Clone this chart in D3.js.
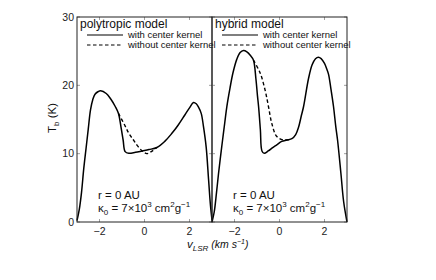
<!DOCTYPE html>
<html>
<head>
<meta charset="utf-8">
<script src="https://cdn.jsdelivr.net/npm/d3@7"></script>
<style>
  body { margin: 0; background: #fff; }
  text { font-family: Arial, "Liberation Sans", sans-serif; }
</style>
</head>
<body>
<script>
const WIDTH = 436;
const HEIGHT = 280;

const xTicks = [-2, 0, 2];
const yTicks = [0, 10, 20, 30];

const panelTitles = ['polytropic model', 'hybrid model'];
const legendLabels = ['with center kernel', 'without center kernel'];

// polytropic model, [v, Tb]
const polyWith = [
  [-3.0, 0.2], [-2.9, 1.8], [-2.8, 4.3], [-2.7, 7.8], [-2.6, 10.7], [-2.5, 13.6],
  [-2.4, 16.4], [-2.3, 17.9], [-2.2, 18.7], [-2.05, 19.1], [-1.95, 19.2],
  [-1.7, 18.8], [-1.5, 18.0], [-1.3, 16.9], [-1.16, 15.9], [-1.05, 14.0],
  [-0.95, 12.0], [-0.86, 10.3], [-0.7, 10.05], [-0.4, 10.2], [-0.1, 10.4],
  [0.2, 10.6], [0.55, 10.9], [0.9, 11.8], [1.2, 12.9], [1.5, 14.2],
  [1.8, 15.7], [2.0, 16.7], [2.18, 17.5], [2.3, 17.3], [2.4, 16.8],
  [2.52, 15.9], [2.62, 14.0], [2.74, 11.0], [2.85, 6.1], [2.93, 2.5], [3.0, 0.3]
];
const polyWithout = [
  [-1.16, 15.9], [-0.9, 14.3], [-0.7, 13.0], [-0.49, 12.0], [-0.3, 11.1],
  [-0.1, 10.4], [0.1, 10.0], [0.3, 10.3], [0.55, 10.9]
];

// hybrid model, [v, Tb]
const hybWith = [
  [-3.0, 0.0], [-2.9, 1.5], [-2.8, 4.3], [-2.71, 7.1], [-2.62, 9.6], [-2.53, 12.0],
  [-2.43, 14.6], [-2.34, 16.9], [-2.2, 19.6], [-2.07, 21.8], [-1.9, 23.8],
  [-1.75, 24.8], [-1.6, 25.1], [-1.45, 24.9], [-1.3, 24.4], [-1.16, 23.7],
  [-1.05, 21.0], [-0.98, 18.5], [-0.93, 16.9], [-0.85, 13.5], [-0.78, 10.4],
  [-0.68, 10.05], [-0.5, 10.4], [-0.3, 10.9], [-0.12, 11.3], [0.1, 11.8],
  [0.33, 12.0], [0.55, 12.2], [0.72, 12.8], [0.85, 13.9], [0.96, 15.4],
  [1.07, 16.9], [1.29, 21.0], [1.45, 23.0], [1.6, 23.9], [1.73, 24.1],
  [1.85, 23.9], [2.0, 23.2], [2.1, 22.4], [2.18, 21.6], [2.28, 19.6],
  [2.4, 16.9], [2.5, 14.0], [2.58, 12.0], [2.73, 7.1], [2.85, 3.0], [3.0, 0.0]
];
const hybWithout = [
  [-1.16, 23.7], [-0.86, 21.8], [-0.64, 19.3], [-0.49, 16.9], [-0.34, 14.4],
  [-0.12, 12.5], [0.18, 12.0], [0.47, 12.1]
];

const panels = [
  { title: panelTitles[0], solid: polyWith, dashed: polyWithout, x0: 77, x1: 212, yLabels: true },
  { title: panelTitles[1], solid: hybWith, dashed: hybWithout, x0: 212, x1: 347, yLabels: false }
];

const TOP = 17;
const BOTTOM = 222;

const svg = d3.select('body').append('svg')
  .attr('width', WIDTH)
  .attr('height', HEIGHT);

const y = d3.scaleLinear().domain([0, 30]).range([BOTTOM, TOP]);

panels.forEach((p) => {
  const x = d3.scaleLinear().domain([-3, 3]).range([p.x0, p.x1]);
  const g = svg.append('g');

  // inward tick marks on all four sides
  xTicks.forEach((t) => {
    g.append('line').attr('x1', x(t)).attr('x2', x(t)).attr('y1', BOTTOM).attr('y2', BOTTOM - 3)
      .attr('stroke', '#888').attr('stroke-width', 0.8);
    g.append('line').attr('x1', x(t)).attr('x2', x(t)).attr('y1', TOP).attr('y2', TOP + 3)
      .attr('stroke', '#888').attr('stroke-width', 0.8);
    g.append('text').attr('x', x(t)).attr('y', 235).attr('text-anchor', 'middle')
      .attr('font-size', 10.5).attr('fill', '#222')
      .text(t < 0 ? '\u2212' + Math.abs(t) : t);
  });
  yTicks.forEach((t) => {
    g.append('line').attr('x1', p.x0).attr('x2', p.x0 + 3).attr('y1', y(t)).attr('y2', y(t))
      .attr('stroke', '#888').attr('stroke-width', 0.8);
    g.append('line').attr('x1', p.x1).attr('x2', p.x1 - 3).attr('y1', y(t)).attr('y2', y(t))
      .attr('stroke', '#888').attr('stroke-width', 0.8);
    if (p.yLabels) {
      g.append('text').attr('x', p.x0 - 3).attr('y', y(t) + 3.5).attr('text-anchor', 'end')
        .attr('font-size', 10.5).attr('fill', '#222').text(t);
    }
  });

  const line = d3.line()
    .x((d) => x(d[0]))
    .y((d) => y(d[1]))
    .curve(d3.curveCatmullRom.alpha(0.5));

  g.append('path').datum(p.dashed).attr('d', line)
    .attr('fill', 'none').attr('stroke', '#000').attr('stroke-width', 1.4)
    .attr('stroke-dasharray', '3.5,2.5');
  g.append('path').datum(p.solid).attr('d', line)
    .attr('fill', 'none').attr('stroke', '#000').attr('stroke-width', 1.5);

  // frame
  g.append('rect').attr('x', p.x0).attr('y', TOP)
    .attr('width', p.x1 - p.x0).attr('height', BOTTOM - TOP)
    .attr('fill', 'none').attr('stroke', '#222').attr('stroke-width', 1);

  // title and legend
  g.append('text').attr('x', p.x0 + 3).attr('y', 28).attr('font-size', 12)
    .attr('fill', '#111').text(p.title);
  legendLabels.forEach((lbl, i) => {
    const ly = 35 + i * 10;
    g.append('line').attr('x1', p.x0 + 10).attr('x2', p.x0 + 46).attr('y1', ly).attr('y2', ly)
      .attr('stroke', '#000').attr('stroke-width', 1.2)
      .attr('stroke-dasharray', i === 1 ? '3.5,2.5' : null);
    g.append('text').attr('x', p.x0 + 51).attr('y', ly + 3).attr('font-size', 9.5)
      .attr('fill', '#111').text(lbl);
  });

  // annotation
  const ann = g.append('text').attr('font-size', 11.5).attr('fill', '#111');
  ann.append('tspan').attr('x', p.x0 + 21).attr('y', 199).text('r = 0 AU');
  const k = g.append('text').attr('x', p.x0 + 21).attr('y', 212).attr('font-size', 11.5).attr('fill', '#111');
  k.append('tspan').text('\u03BA');
  k.append('tspan').attr('font-size', 8).attr('dy', 3).text('0');
  k.append('tspan').attr('dy', -3).text(' = 7\u00D710');
  k.append('tspan').attr('font-size', 8).attr('dy', -5).text('3');
  k.append('tspan').attr('dy', 5).text(' cm');
  k.append('tspan').attr('font-size', 8).attr('dy', -5).text('2');
  k.append('tspan').attr('dy', 5).text('g');
  k.append('tspan').attr('font-size', 8).attr('dy', -5).text('\u22121');
});

// axis labels
const yl = svg.append('text')
  .attr('transform', 'translate(56,118) rotate(-90)')
  .attr('text-anchor', 'middle').attr('font-size', 11.5).attr('fill', '#111');
yl.append('tspan').text('T');
yl.append('tspan').attr('font-size', 8).attr('dy', 3).text('b');
yl.append('tspan').attr('dy', -3).text(' (K)');

const xl = svg.append('text')
  .attr('x', 187).attr('y', 248).attr('font-size', 11.5).attr('fill', '#111')
  .attr('font-style', 'italic');
xl.append('tspan').text('v');
xl.append('tspan').attr('font-size', 8).attr('dy', 3).text('LSR');
xl.append('tspan').attr('dy', -3).attr('font-size', 10.5).text(' (km s');
xl.append('tspan').attr('font-size', 7).attr('dy', -4).text('\u22121');
xl.append('tspan').attr('font-size', 10.5).attr('dy', 4).text(')');
</script>
</body>
</html>
